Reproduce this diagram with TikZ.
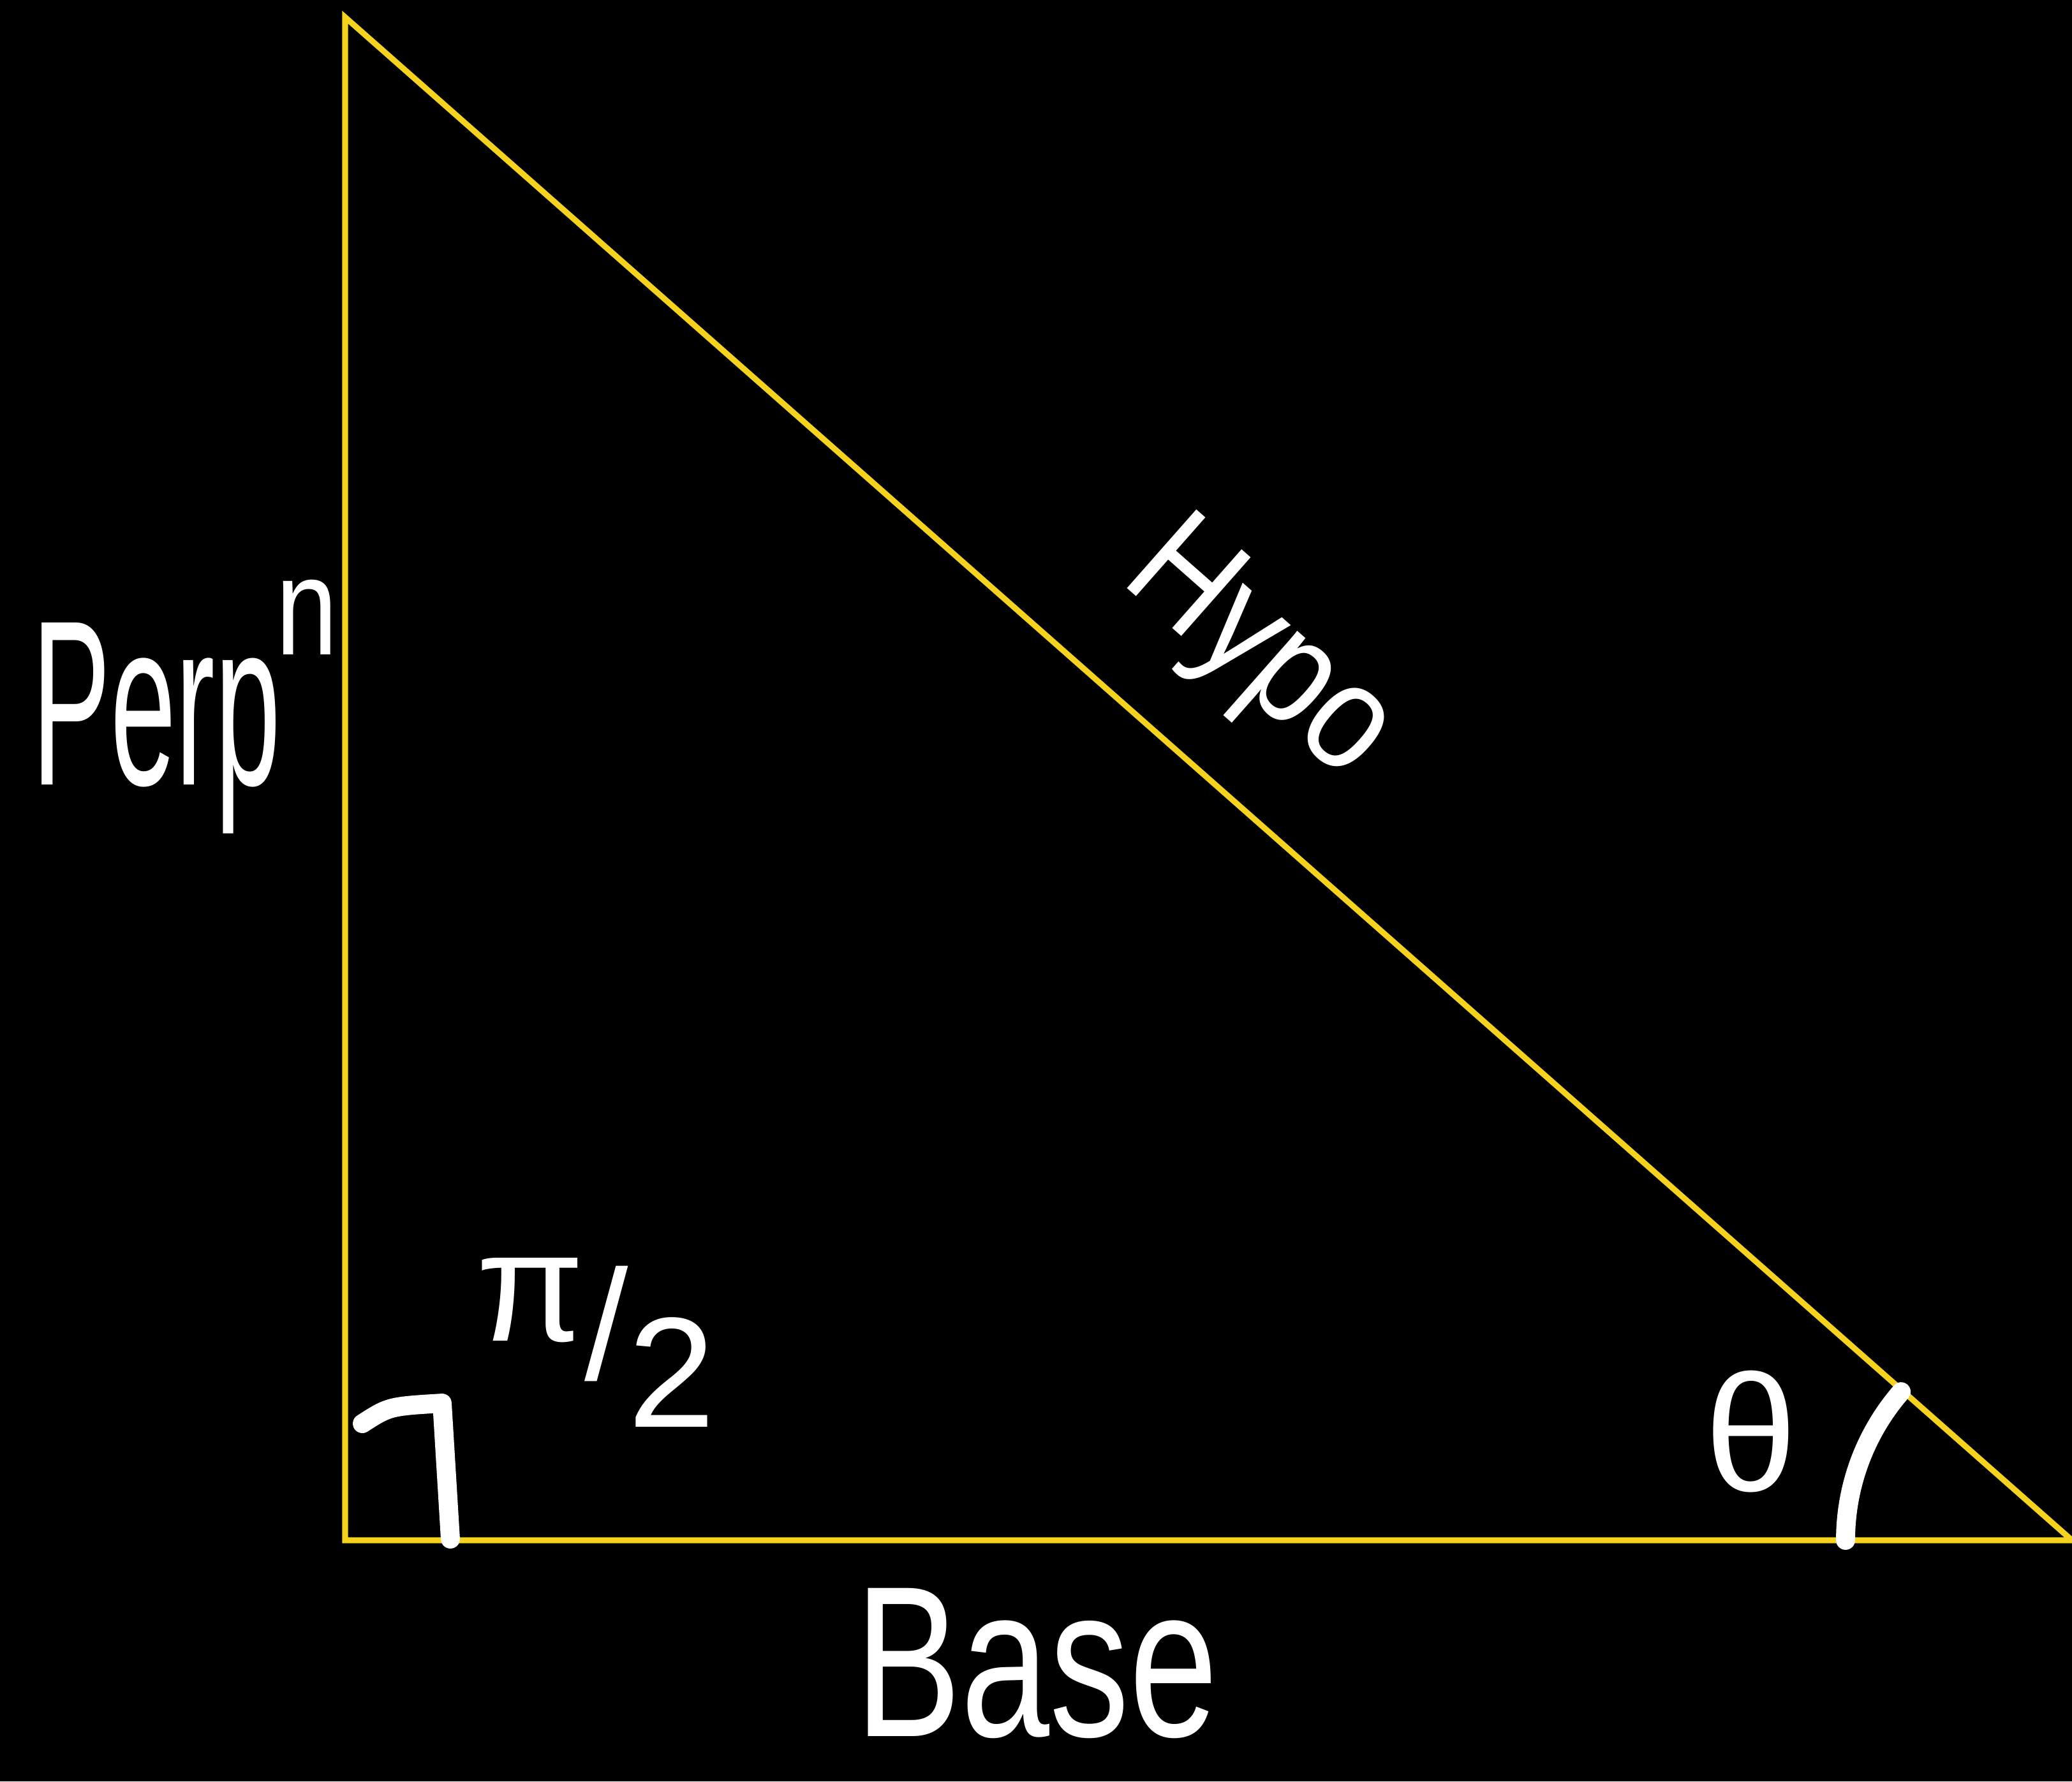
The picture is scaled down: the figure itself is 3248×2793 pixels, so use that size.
\documentclass[tikz,border=0pt]{standalone}
\usepackage{fontspec}
\setmainfont{Liberation Sans}
\usepackage{graphicx}
\definecolor{triyellow}{RGB}{245,210,30}
\begin{document}
\begin{tikzpicture}[x=0.01cm,y=-0.01cm,
  sideline/.style={draw=triyellow,line width=2.6pt,line join=miter},
  txt/.style={text=white,inner sep=0pt},
  handstroke/.style={draw=white,line width=8.5pt,line cap=round,line join=round}]
\fill[black] (0,0) rectangle (3248,2793);
\useasboundingbox (0,0) rectangle (3248,2793);
% triangle
\coordinate (T) at (541,27);
\coordinate (O) at (541,2415);
\coordinate (R) at (3248,2415);
\draw[sideline] (T) -- (O) -- (R) -- cycle;
% right-angle mark
\coordinate (ra1) at (568,2232);
\coordinate (ra2) at (693,2200);
\coordinate (ra3) at (706,2413);
\draw[handstroke] (ra1) .. controls (610,2205) .. (ra2) -- (ra3);
% angle arc at right vertex
\draw[handstroke] (R) ++(-355,0) arc[start angle=180,end angle=221,radius=355];
% labels
\node[txt,anchor=base,font=\fontsize{105}{110}\selectfont] (perp) at (290,1230)
  {\scalebox{0.5}[1]{Perp}\kern-0.02em\raisebox{0.55em}{\scalebox{0.8}[1]{\fontsize{62}{62}\selectfont n}}};
\node[txt,rotate=-41.4,font=\fontsize{68}{74}\selectfont] (hypo) at (1970,1025) {\scalebox{0.85}[1]{Hypo}};
\node[txt,font=\fontsize{70}{80}\selectfont] (halfpi) at (934,2105) {\raisebox{0.25em}{π}/\raisebox{-0.3em}{2}};
\node[txt,font=\fontsize{74}{80}\selectfont] (theta) at (2745,2245) {θ};
\node[txt,anchor=base,font=\fontsize{96}{100}\selectfont] (base) at (1625,2722) {\scalebox{0.74}[1]{Base}};
\end{tikzpicture}
\end{document}
